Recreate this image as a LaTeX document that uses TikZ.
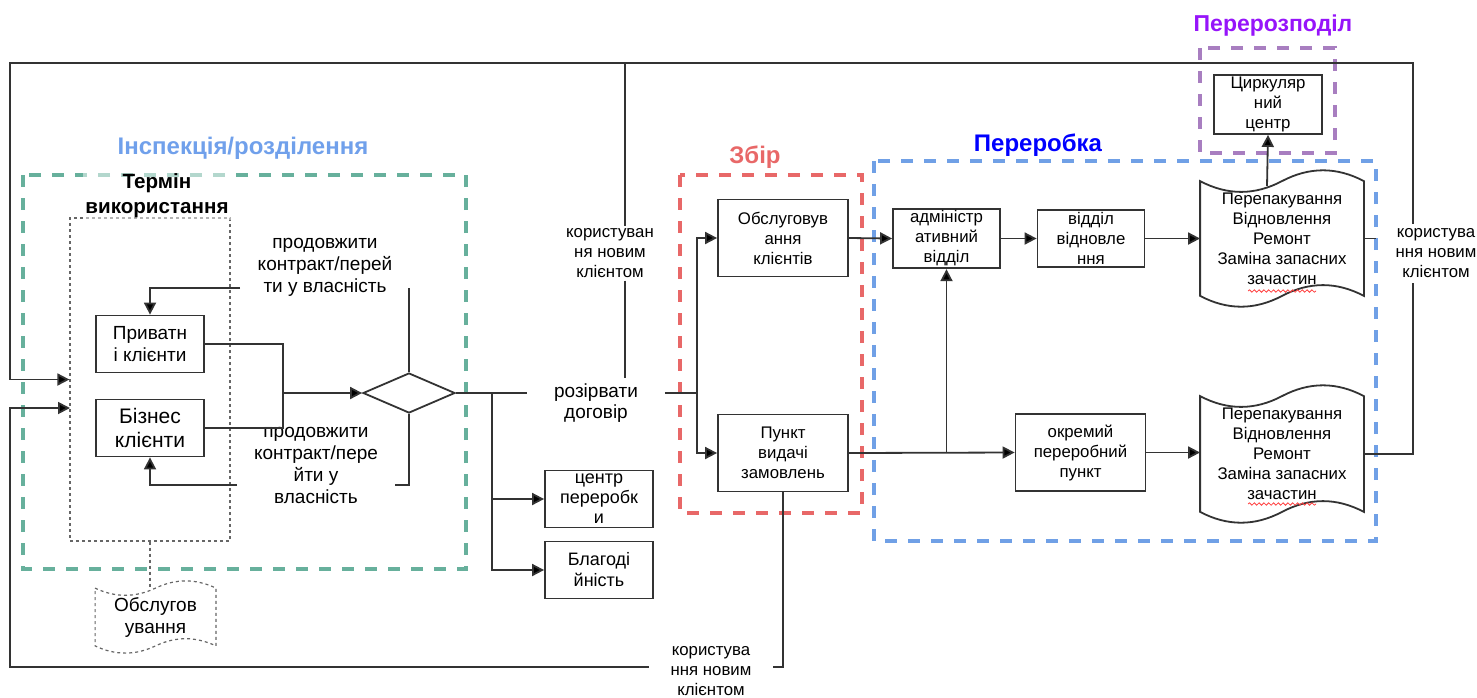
\documentclass[tikz,border=0pt]{standalone}
\usepackage{fontspec}
\setmainfont{Liberation Sans}
\usetikzlibrary{arrows.meta,calc,shapes.geometric,decorations.pathmorphing}

\definecolor{insgreen}{RGB}{103,176,156}
\definecolor{institle}{RGB}{112,160,235}
\definecolor{colred}{RGB}{232,104,104}
\definecolor{procblue}{RGB}{112,160,230}
\definecolor{redispurple}{RGB}{168,126,192}
\definecolor{redistitle}{RGB}{150,20,250}

% wavy (tape) outline round a node: #2 node, #3 wave size
\newcommand\wavedoc[3][]{%
  \draw[#1] let \p1=(#2.north west), \p2=(#2.south east) in
    ({\x1},{\y1-#3/2})
    .. controls ({\x1+(\x2-\x1)/6},{\y1-1.1*#3}) and ({\x1+(\x2-\x1)/3},{\y1-1.1*#3}) .. ({(\x1+\x2)/2},{\y1-#3/2})
    .. controls ({\x1+2*(\x2-\x1)/3},{\y1+0.1*#3}) and ({\x1+5*(\x2-\x1)/6},{\y1+0.1*#3}) .. ({\x2},{\y1-#3/2})
    -- ({\x2},{\y2+#3/2})
    .. controls ({\x1+5*(\x2-\x1)/6},{\y2+1.1*#3}) and ({\x1+2*(\x2-\x1)/3},{\y2+1.1*#3}) .. ({(\x1+\x2)/2},{\y2+#3/2})
    .. controls ({\x1+(\x2-\x1)/3},{\y2-0.1*#3}) and ({\x1+(\x2-\x1)/6},{\y2-0.1*#3}) .. ({\x1},{\y2+#3/2})
    -- cycle;}

\begin{document}
\begin{tikzpicture}[
    x=0.5pt, y=-0.5pt,
    line width=0.9pt,
    every node/.style={align=center},
    txt/.style={font=\fontsize{9.5}{11}\selectfont},
    sml/.style={font=\fontsize{8.4}{10}\selectfont},
    heading/.style={font=\bfseries\fontsize{12}{14}\selectfont},
    proc/.style={
      sml, draw=black!80, line width=0.9pt, inner sep=1pt,
      minimum width=54pt, minimum height=28.5pt
    },
    wideproc/.style={proc, minimum width=65pt, minimum height=38.5pt},
    tapebox/.style={sml, inner sep=0pt, minimum width=81pt, minimum height=68.5pt},
    link/.style={draw=black!80},
    arr/.style={link, -{Triangle[length=6pt,width=6pt,fill=black]}},
    grp/.style={line width=1.6pt, dash pattern=on 6pt off 5.5pt},
    dots/.style={draw=black!60, line width=0.6pt, dash pattern=on 1.5pt off 1.5pt}
  ]
  \useasboundingbox (0,0) rectangle (1477,697);

% --- group frames and headings ---
  \draw[grp, insgreen]    (23,175)   rectangle (466,569);
  \draw[grp, colred]      (680,175)  rectangle (862,513);
  \draw[grp, procblue]    (874,161)  rectangle (1376,541);
  \draw[grp, redispurple] (1200,48)  rectangle (1335,153);

  \node[heading, text=institle] (tinsp) at (243,148) {Інспекція/розділення};
  \node[heading, text=colred]   (tcoll) at (755,157) {Збір};
  \node[heading, text=blue]     (tproc) at (1038,145) {Переробка};
  \node[heading, text=redistitle, font=\bfseries\fontsize{11.5}{13}\selectfont]
        (tredis) at (1273,26) {Перерозподіл};

% --- inspection / separation ---
  \node[dots, minimum width=80pt, minimum height=161.5pt] (term) at (150,379.5) {};
  \node[font=\bfseries\fontsize{10.3}{12.5}\selectfont, fill=white, fill opacity=.5,
        text opacity=1, inner sep=1pt] (tterm) at (157,196) {Термін\\використання};

  \node[proc, txt] (priv) at (150,344) {Приватн\\і клієнти};
  \node[proc, font=\fontsize{10.5}{12}\selectfont] (biz) at (150,428) {Бізнес\\клієнти};
  \node[draw=black!80, diamond, minimum width=46pt, minimum height=20pt,
        inner sep=0pt] (dia) at (409,393) {};

  \node[txt] (contA) at (325,267) {продовжити\\контракт/перей\\ти у власність};
  \node[txt] (contB) at (316,465) {продовжити\\контракт/пере\\йти у\\власність};

  \node[tapebox, txt, minimum width=59.5pt, minimum height=36pt] (serv) at (155.5,617)
        {Обслугов\\ування};
  \wavedoc[dots]{serv}{8pt}

% --- exits ---
  \node[txt, font=\fontsize{9.5}{10.5}\selectfont, inner xsep=13pt, inner ysep=2.5pt]
        (rozirv) at (596,403) {розірвати\\договір};
  \node[proc, font=\fontsize{9}{10}\selectfont] (centr) at (599,499) {центр\\переробк\\и};
  \node[proc, font=\fontsize{9}{10.5}\selectfont] (blag) at (599,570) {Благоді\\йність};

% --- collection ---
  \node[wideproc] (obsl)  at (783,238) {Обслуговув\\ання\\клієнтів};
  \node[wideproc] (punkt) at (783,453) {Пункт\\видачі\\замовлень};

% --- processing ---
  \node[proc, minimum width=53.5pt] (admin) at (946.5,238.5) {адміністр\\ативний\\відділ};
  \node[proc, minimum width=53.5pt] (vidn)  at (1091,238.5)  {відділ\\відновле\\ння};
  \node[wideproc] (okr) at (1080.5,452.5) {окремий\\переробний\\пункт};

  \node[tapebox] (docA) at (1282,238.5)
        {Перепакування\\Відновлення\\Ремонт\\Заміна запасних\\зачастин};
  \wavedoc[link]{docA}{12pt}
  \node[tapebox, minimum height=69pt] (docB) at (1282,454)
        {Перепакування\\Відновлення\\Ремонт\\Заміна запасних\\зачастин};
  \wavedoc[link]{docB}{12pt}
  \foreach \d/\dy in {docA/52.5, docB/50}
    \draw[red!75, line width=0.4pt, decorate,
          decoration={snake, amplitude=0.6pt, segment length=2.4pt}]
      ($(\d.center)+(-34,\dy)$) -- ($(\d.center)+(34,\dy)$);

% --- redistribution ---
  \node[proc] (circ) at (1268,104.5) {Циркуляр\\ний\\центр};

% --- new-client labels on the loops ---
  \node[sml, inner sep=1pt] (userA) at (610,253) {користуван\\ня новим\\клієнтом};
  \node[sml, inner xsep=9.5pt, inner ysep=2pt] (userB) at (1436,253)
        {користува\\ння новим\\клієнтом};
  \node[sml, inner xsep=10.5pt, inner ysep=1pt] (userC) at (711,671)
        {користува\\ння новим\\клієнтом};

% --- bends ---
  \coordinate (nw) at (10,63);
  \coordinate (ne) at (1413,63);
  \coordinate (sw) at (10,667);
  \coordinate (topjoin) at (625,63);
  \coordinate (termin2) at (70,408);
  \coordinate (merge) at (283,393);
  \coordinate (split) at (492,393);
  \coordinate (fork) at (697,393);
  \coordinate (contAl) at (240,288);
  \coordinate (contAr) at (409,288);
  \coordinate (contBl) at (237,485);
  \coordinate (contBr) at (395,485);
  \coordinate (docAtop) at (1267,186);
  \coordinate (servtop) at (150,587);

% --- connectors ---
  \draw[link] (priv.east) -| (merge);
  \draw[link] (biz.east) -| (merge);
  \draw[arr] (merge) -- (dia.west);
  \draw[link] (dia.north) -- (contAr);
  \draw[arr] (contAl) -| (priv.north);
  \draw[link] (dia.south) |- (contBr);
  \draw[arr] (contBl) -| (biz.south);
  \draw[dots] (term.south) -- (servtop);

  \draw[link] (dia.east) -- (dia.east -| rozirv.west);
  \draw[link] (fork -| rozirv.east) -- (fork);
  \draw[arr] (split) |- (centr.west);
  \draw[arr] (split) |- (blag.west);
  \draw[arr] (fork) |- (obsl.west);
  \draw[arr] (fork) |- (punkt.west);

  \draw[arr] (obsl.east) -- (admin.west);
  \draw[arr] (admin.east) -- (vidn.west);
  \draw[arr] (vidn.east) -- (docA.west);
  \draw[arr] (punkt.east) -- (okr.west);
  \draw[arr] (punkt.east -| admin.south) -- (admin.south);
  \draw[arr] (okr.east) -- (okr.east -| docB.west);
  \draw[arr] (docAtop) -- (circ.south);

  % loops back to the usage term
  \draw[link] (docA.east) -- (docA.east -| userB.west);
  \draw[link] (docB.east) -| (userB.south -| ne);
  \draw[arr] (userB.north -| ne) -- (ne) -- (nw) |- (term.west);
  \draw[link] (topjoin) -- (topjoin |- userA.north);
  \draw[link] (topjoin |- userA.south) -- (topjoin |- rozirv.north);
  \draw[link] (punkt.south) |- (sw -| userC.east);
  \draw[arr] (sw -| userC.west) -- (sw) |- (termin2);

\end{tikzpicture}
\end{document}
